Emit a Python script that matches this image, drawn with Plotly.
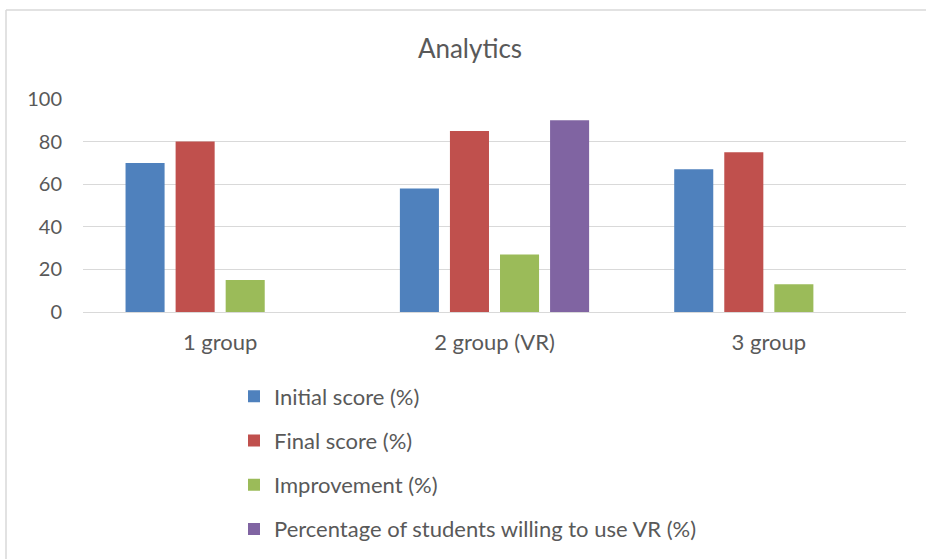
import plotly.graph_objects as go

categories = ["1 group", "2 group (VR)", "3 group"]
initial_score = [70, 58, 67]
final_score = [80, 85, 75]
improvement = [15, 27, 13]
willing_vr = [None, 90, None]
series_names = ["Initial score (%)", "Final score (%)", "Improvement (%)",
                "Percentage of students willing to use VR (%)"]
colors = ["#4F81BD", "#C0504D", "#9BBB59", "#8064A2"]
y_ticks = [0, 20, 40, 60, 80, 100]

W, H = 926, 559
L, R, T, B = 83, 20, 99, 247
pw, ph = W - L - R, H - T - B

FONT = "Lato"
TXT = "#595959"

fig = go.Figure()
for i, (name, vals, c) in enumerate(zip(series_names, [initial_score, final_score, improvement, willing_vr], colors)):
    fig.add_trace(go.Bar(x=categories, y=vals, name=name, legendgroup=f"g{i}",
                         marker=dict(color=c, line=dict(width=0))))

def px_x(p):
    return (p - L) / pw

def px_y(p):
    return (H - B - p) / ph

fig.update_layout(
    width=W, height=H,
    margin=dict(l=L, r=R, t=T, b=B, autoexpand=False),
    paper_bgcolor="white", plot_bgcolor="white",
    barmode="group", bargap=0.27, bargroupgap=0.22,
    title=dict(text="Analytics", x=470 / W, xanchor="center", y=1 - 49 / H, yanchor="middle",
               font=dict(family=FONT, size=26, color=TXT)),
    font=dict(family=FONT, color=TXT, size=20),
    xaxis=dict(showgrid=False, tickfont=dict(size=22, color=TXT), ticks="", showline=False,
               ticklabelstandoff=15, automargin=False),
    yaxis=dict(range=[0, 100], tickvals=y_ticks, gridcolor="#D9D9D9", gridwidth=1,
               zeroline=True, zerolinecolor="#D9D9D9", zerolinewidth=1,
               tickfont=dict(size=20, color=TXT), ticks="", ticklen=0, showline=False,
               ticklabelstandoff=20, automargin=False),
    legend=dict(orientation="v", x=px_x(234), xanchor="left", y=px_y(375.5), yanchor="top",
                font=dict(size=22, color=TXT), tracegroupgap=12.6, itemsizing="constant",
                traceorder="grouped"),
    showlegend=True,
    shapes=[
        dict(type="line", xref="paper", yref="paper", x0=px_x(6), x1=px_x(W + 5), y0=px_y(10), y1=px_y(10),
             line=dict(color="#D9D9D9", width=1.5)),
        dict(type="line", xref="paper", yref="paper", x0=px_x(6), x1=px_x(6), y0=px_y(10), y1=px_y(H + 5),
             line=dict(color="#D9D9D9", width=1.5)),
    ],
)
fig.write_html("out.html")
